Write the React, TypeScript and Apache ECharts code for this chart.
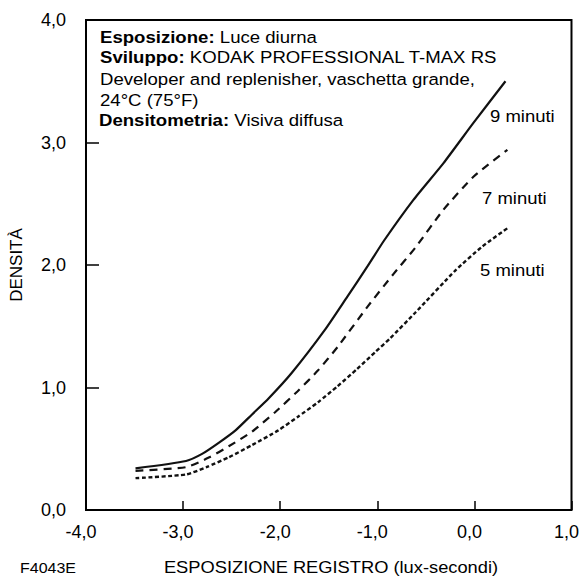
import React, { useEffect, useRef } from "react";
import * as echarts from "echarts";

const xTicks = [-4, -3, -2, -1, 0, 1];
const yTicks = [0, 1, 2, 3, 4];

const nine: [number, number][] = [
  [-3.49, 0.34], [-2.97, 0.4], [-2.8, 0.46], [-2.63, 0.55], [-2.46, 0.65], [-2.29, 0.78],
  [-2.12, 0.91], [-1.88, 1.12], [-1.54, 1.47], [-1.31, 1.74], [-1.1, 1.99], [-0.93, 2.2],
  [-0.63, 2.53], [-0.32, 2.83], [-0.01, 3.16], [0.32, 3.5],
];
const seven: [number, number][] = [
  [-3.49, 0.32], [-2.97, 0.35], [-2.73, 0.43], [-2.53, 0.52], [-2.29, 0.64], [-2.05, 0.8],
  [-1.82, 0.97], [-1.61, 1.14], [-1.41, 1.33], [-1.1, 1.66], [-0.83, 1.93], [-0.61, 2.14],
  [-0.32, 2.45], [-0.01, 2.72], [0.34, 2.94],
];
const five: [number, number][] = [
  [-3.49, 0.26], [-2.97, 0.29], [-2.76, 0.35], [-2.53, 0.43], [-2.29, 0.53], [-2.02, 0.65],
  [-1.82, 0.76], [-1.61, 0.88], [-1.41, 1.01], [-1.21, 1.15], [-1.02, 1.29], [-0.87, 1.4],
  [-0.61, 1.61], [-0.19, 1.96], [0.08, 2.15], [0.34, 2.3],
];

const seriesNames = ["9 minuti", "7 minuti", "5 minuti"];
const noteLines = [
  "{b|Esposizione:} Luce diurna",
  "{b|Sviluppo:} KODAK PROFESSIONAL T-MAX RS",
  "Developer and replenisher, vaschetta grande,",
  "24°C (75°F)",
  "{b|Densitometria:} Visiva diffusa",
];
const xTitle = "ESPOSIZIONE REGISTRO (lux-secondi)";
const yTitle = "DENSITÀ";
const figCode = "F4043E";

const FONT = "'Liberation Sans', Arial, Helvetica, sans-serif";

export default function App() {
  const ref = useRef<HTMLDivElement>(null);
  useEffect(() => {
    document.body.style.margin = "0";
    const chart = echarts.init(ref.current!, null, { renderer: "svg" });
    const fmt = (v: number) => v.toFixed(1).replace(".", ",");
    const noteY = [37.5, 57.5, 79, 100.5, 120];
    const noteX = [100, 100, 100, 100, 99];
    const labelPos: [number, number][] = [
      [490, 116.5],
      [482, 198],
      [480, 270],
    ];
    const fs = 16.5;
    chart.setOption({
      animation: false,
      backgroundColor: "#fff",
      grid: {
        left: 85,
        right: 5,
        top: 20,
        bottom: 70,
        show: true,
        borderColor: "#000",
        borderWidth: 2,
      },
      xAxis: {
        type: "value",
        min: xTicks[0],
        max: xTicks[xTicks.length - 1],
        interval: 1,
        axisLine: { show: false, onZero: false },
        axisTick: { show: true, inside: true, length: 9, lineStyle: { color: "#000", width: 1.5 } },
        splitLine: { show: false },
        axisLabel: {
          formatter: fmt,
          color: "#000",
          fontSize: 18,
          fontFamily: FONT,
          margin: 13,
          padding: [0, 10, 0, 0],
        },
      },
      yAxis: {
        type: "value",
        min: yTicks[0],
        max: yTicks[yTicks.length - 1],
        interval: 1,
        name: yTitle,
        nameLocation: "middle",
        nameGap: 61,
        nameTextStyle: { color: "#000", fontSize: 17, fontFamily: FONT },
        axisLine: { show: false, onZero: false },
        axisTick: { show: true, inside: true, length: 13, lineStyle: { color: "#000", width: 1.5 } },
        splitLine: { show: false },
        axisLabel: {
          formatter: fmt,
          color: "#000",
          fontSize: 18,
          fontFamily: FONT,
          margin: 20,
        },
      },
      series: [
        {
          name: seriesNames[0],
          type: "line",
          data: nine,
          smooth: 0.2,
          symbol: "none",
          lineStyle: { color: "#111", width: 2.2, type: "solid" },
        },
        {
          name: seriesNames[1],
          type: "line",
          data: seven,
          smooth: 0.2,
          symbol: "none",
          lineStyle: { color: "#111", width: 2.2, type: [8, 6] },
        },
        {
          name: seriesNames[2],
          type: "line",
          data: five,
          smooth: 0.2,
          symbol: "none",
          lineStyle: { color: "#111", width: 2.4, type: [4, 2.5] },
        },
      ],
      graphic: [
        ...noteLines.map((t, i) => ({
          type: "text",
          x: noteX[i],
          y: noteY[i],
          scaleX: 18.6 / fs,
          style: {
            text: t,
            fill: "#000",
            fontSize: fs,
            fontFamily: FONT,
            verticalAlign: "middle",
            rich: {
              b: { fontWeight: "bold", fontSize: fs, fontFamily: FONT, fill: "#000" },
            },
          },
        })),
        ...seriesNames.map((n, i) => ({
          type: "text",
          x: labelPos[i][0],
          y: labelPos[i][1],
          scaleX: 18.5 / fs,
          style: {
            text: n,
            fill: "#000",
            fontSize: fs,
            fontFamily: FONT,
            verticalAlign: "middle",
          },
        })),
        {
          type: "text",
          x: 331,
          y: 567,
          scaleX: 18.3 / fs,
          style: {
            text: xTitle,
            fill: "#000",
            fontSize: fs,
            fontFamily: FONT,
            align: "center",
            verticalAlign: "middle",
          },
        },
        {
          type: "text",
          x: 20,
          y: 568,
          scaleX: 16 / 14.5,
          style: {
            text: figCode,
            fill: "#000",
            fontSize: 14.5,
            fontFamily: FONT,
            verticalAlign: "middle",
          },
        },
      ],
    });
    return () => chart.dispose();
  }, []);
  return <div ref={ref} style={{ width: 582, height: 580 }} />;
}
